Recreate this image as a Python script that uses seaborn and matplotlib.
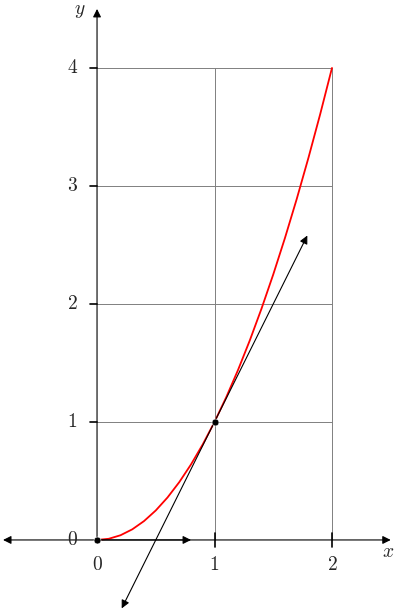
import matplotlib
matplotlib.use("Agg")
import matplotlib.pyplot as plt
import seaborn as sns
import pandas as pd

curve_x = [0, 0.1, 0.2, 0.3, 0.4, 0.5, 0.6, 0.7, 0.8, 0.9, 1.0,
           1.1, 1.2, 1.3, 1.4, 1.5, 1.6, 1.7, 1.8, 1.9, 2.0]
curve_y = [0, 0.01, 0.04, 0.09, 0.16, 0.25, 0.36, 0.49, 0.64, 0.81, 1.0,
           1.21, 1.44, 1.69, 1.96, 2.25, 2.56, 2.89, 3.24, 3.61, 4.0]
tangent_x = [0.21, 1.79]
tangent_y = [-0.58, 2.58]
points_x = [0, 1]
points_y = [0, 1]
xticks = [0, 1, 2]
yticks = [0, 1, 2, 3, 4]

sns.set_style("white")
plt.rcParams["mathtext.fontset"] = "cm"
fig = plt.figure(figsize=(4, 6.13), dpi=100)
ax = fig.add_axes([0, 0, 1, 1])
ax.set_xlim(-0.826, 2.579)
ax.set_ylim(-0.619, 4.576)
ax.axis("off")

for xv in xticks[1:]:
    ax.plot([xv, xv], [0, 4], color="gray", lw=0.7)
for yv in yticks[1:]:
    ax.plot([0, 2], [yv, yv], color="gray", lw=0.7)

df = pd.DataFrame({"x": curve_x, "y": curve_y})
sns.lineplot(data=df, x="x", y="y", color="red", lw=1.3, ax=ax, sort=False)

ap = dict(arrowstyle="-|>", color="black", lw=0.8, mutation_scale=12, shrinkA=0, shrinkB=0)
ax.annotate("", xy=(2.5, 0), xytext=(-0.8, 0), arrowprops=dict(arrowstyle="<|-|>", color="black", lw=0.8, mutation_scale=12, shrinkA=0, shrinkB=0))
ax.annotate("", xy=(0, 4.5), xytext=(0, 0), arrowprops=ap)
ax.annotate("", xy=(0.8, 0), xytext=(0, 0), arrowprops=ap)
ax.annotate("", xy=(tangent_x[1], tangent_y[1]), xytext=(tangent_x[0], tangent_y[0]),
            arrowprops=dict(arrowstyle="<|-|>", color="black", lw=0.8, mutation_scale=12, shrinkA=0, shrinkB=0))

sns.scatterplot(x=points_x, y=points_y, color="black", s=25, ax=ax, zorder=5)

for xv in xticks[1:]:
    ax.plot([xv, xv], [-0.06, 0.06], color="black", lw=1.2)
for yv in yticks[1:]:
    ax.plot([-0.06, 0.0], [yv, yv], color="black", lw=1.2)

for xv in xticks:
    ax.text(xv, -0.21, f"${xv}$", ha="center", va="center", fontsize=14)
for yv in yticks:
    ax.text(-0.21, yv, f"${yv}$", ha="center", va="center", fontsize=14)
ax.text(2.48, -0.1, "$x$", ha="center", va="center", fontsize=14)
ax.text(-0.15, 4.49, "$y$", ha="center", va="center", fontsize=14)

fig.savefig("out.png", dpi=100)
